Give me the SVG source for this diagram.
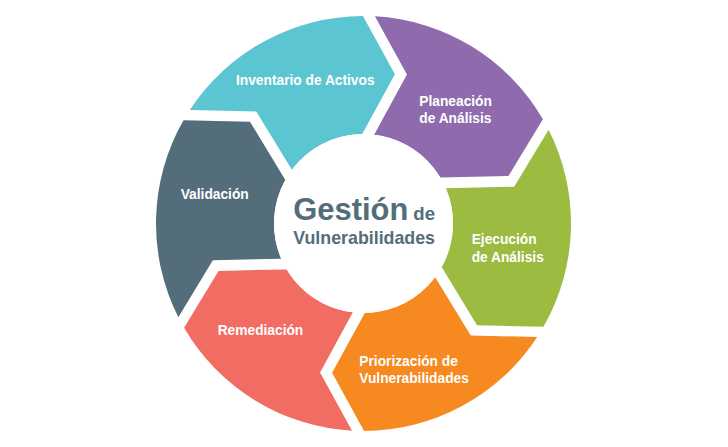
<svg xmlns="http://www.w3.org/2000/svg" width="728" height="447" viewBox="0 0 728 447">
  <style>
    .lbl { font-family: "Liberation Sans", Arial, Helvetica, sans-serif; font-weight: bold; font-size: 13.75px; fill: #ffffff; }
    .ctr { font-family: "Liberation Sans", Arial, Helvetica, sans-serif; font-weight: bold; fill: #546d7a; }
  </style>
  <rect x="0" y="0" width="728" height="447" fill="#ffffff"/>
  <g id="inventario">
    <path fill="#5cc5d2" d="M189.79,110.01 A207.5,207.5 0 0 1 362.93,16.00 L394.92,74.27 L362.19,134.01 A89.5,89.5 0 0 0 291.87,169.85 L256.24,111.45 Z"/>
    <text class="lbl" x="236" y="85">Inventario de Activos</text>
  </g>
  <g id="planeacion">
    <path fill="#8f6bad" d="M374.93,16.32 A207.5,207.5 0 0 1 542.92,119.26 L508.44,176.10 L440.35,177.62 A89.5,89.5 0 0 0 374.16,134.64 L406.92,74.58 Z"/>
    <text class="lbl" x="419.3" y="106">Planeación</text>
    <text class="lbl" x="419.3" y="122.7">de Análisis</text>
  </g>
  <g id="ejecucion">
    <path fill="#9bbb41" d="M548.64,129.81 A207.5,207.5 0 0 1 543.49,326.75 L477.03,325.32 L441.66,267.11 A89.5,89.5 0 0 0 445.79,188.30 L514.17,186.64 Z"/>
    <text class="lbl" x="471.7" y="244.3">Ejecución</text>
    <text class="lbl" x="471.7" y="261.7">de Análisis</text>
  </g>
  <g id="priorizacion">
    <path fill="#f6891f" d="M537.21,336.99 A207.5,207.5 0 0 1 364.07,431.00 L332.08,372.73 L364.81,312.99 A89.5,89.5 0 0 0 435.13,277.15 L470.76,335.55 Z"/>
    <text class="lbl" x="359.3" y="365.5">Priorización de</text>
    <text class="lbl" x="359.3" y="383">Vulnerabilidades</text>
  </g>
  <g id="remediacion">
    <path fill="#f16c63" d="M352.07,430.68 A207.5,207.5 0 0 1 184.08,327.74 L218.56,270.90 L286.65,269.38 A89.5,89.5 0 0 0 352.84,312.36 L320.08,372.42 Z"/>
    <text class="lbl" x="217.7" y="335.3">Remediación</text>
  </g>
  <g id="validacion">
    <path fill="#546d7a" d="M178.36,317.19 A207.5,207.5 0 0 1 183.51,120.25 L249.97,121.68 L285.34,179.89 A89.5,89.5 0 0 0 281.21,258.70 L212.83,260.36 Z"/>
    <text class="lbl" x="180.7" y="199.3">Validación</text>
  </g>
  <g id="centro">
    <circle cx="363.5" cy="223.5" r="89.5" fill="#ffffff"/>
    <text class="ctr" x="293.3" y="220" font-size="30.5" textLength="115" lengthAdjust="spacingAndGlyphs">Gestión</text>
    <text class="ctr" x="413.3" y="220" font-size="17.5" textLength="21.7" lengthAdjust="spacingAndGlyphs">de</text>
    <text class="ctr" x="293.3" y="244" font-size="19" textLength="141.7" lengthAdjust="spacingAndGlyphs">Vulnerabilidades</text>
  </g>
  <g id="connectors"/>
</svg>
